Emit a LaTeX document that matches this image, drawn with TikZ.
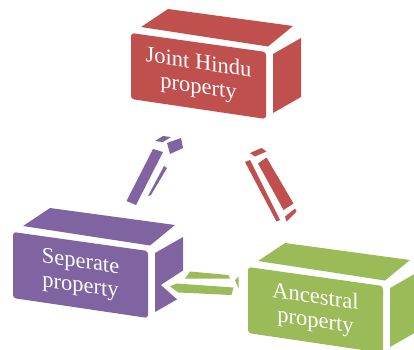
\documentclass[tikz,border=0pt]{standalone}
\usepackage{fontspec}
\setmainfont{Liberation Serif}
\definecolor{cred}{HTML}{C0504D}
\definecolor{cpurple}{HTML}{8064A2}
\definecolor{cgreen}{HTML}{9BBB59}
\newcommand\cubebox[3]{%
  \begin{scope}[shift={(#1,#2)}]
    \fill[#3,rounded corners=3pt] (0,0) -- (135,19) -- (135,86) -- (0,66) -- cycle;
    \fill[#3] (10,-6) -- (137,13.5) -- (162,-7) -- (37,-24) -- cycle;
    \fill[#3] (142,21) -- (170,5) -- (170,64) -- (142,80) -- cycle;
  \end{scope}}
\tikzset{boxtext/.style={text=white,align=center,font=\fontsize{22.5}{24}\selectfont,yslant=-0.145,transform shape,inner sep=0pt}}
\begin{document}
\begin{tikzpicture}[x=1pt,y=-1pt]
\useasboundingbox (0,0) rectangle (414,349);
\clip (0,0) rectangle (414,349);
% boxes
\cubebox{131}{33}{cred}
\cubebox{13}{232}{cpurple}
\cubebox{248}{267}{cgreen}
% texts
\begin{scope}[shift={(198.5,76)}]
  \node[boxtext] (jh) at (0,0) {Joint Hindu\\property};
\end{scope}
\begin{scope}[shift={(80.5,275)}]
  \node[boxtext] (sp) at (0,0) {Seperate\\property};
\end{scope}
\begin{scope}[shift={(315.5,310)}]
  \node[boxtext] (ap) at (0,0) {Ancestral\\property};
\end{scope}
% purple arrow (Seperate -> Joint Hindu)
\fill[cpurple] (126.5,201) -- (153,149) -- (163,152) -- (136,205) -- cycle;
\fill[cpurple] (155,141) -- (163,136) -- (171,137) -- (163,142) -- cycle;
\fill[cpurple] (167,143) -- (181,138) -- (183,148) -- (170,154) -- cycle;
\fill[cpurple] (148,196) -- (164,166) -- (167,168) -- (151,195) -- cycle;
% red arrow (Joint Hindu -> Ancestral)
\fill[cred] (250,153) -- (261.5,148) -- (266.5,151.5) -- (255,156.5) -- cycle;
\fill[cred] (245,162) -- (250,160) -- (280,220) -- (276.5,221.5) -- cycle;
\fill[cred] (258,163.5) -- (266.5,157.5) -- (293.5,203.5) -- (283.5,210) -- cycle;
\fill[cred] (285,216.5) -- (295,208.5) -- (296.5,211.5) -- (286.5,221.5) -- cycle;
% green arrow (Ancestral -> Seperate)
\fill[white] (161,285) -- (184,270) -- (192,270) -- (184,300) -- (178,300) -- cycle;
\fill[cgreen] (185,278.5) -- (190,271.5) -- (228.5,275) -- (230,278.5) -- cycle;
\fill[cgreen] (170,286.5) -- (176.5,283.5) -- (233.5,287.5) -- (231.5,295) -- (178.5,292.5) -- cycle;
\fill[cgreen] (235,280) -- (238.5,276.5) -- (238.5,288.5) -- cycle;
\end{tikzpicture}
\end{document}
